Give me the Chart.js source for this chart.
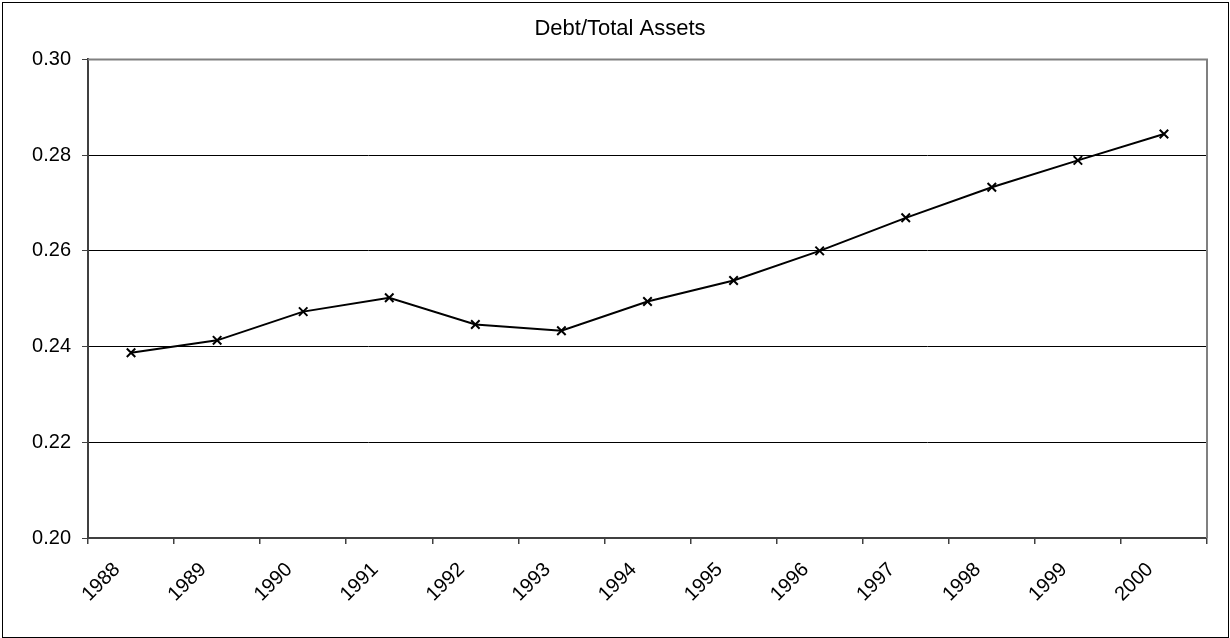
<!DOCTYPE html>
<html>
<head>
<meta charset="utf-8">
<script src="https://cdn.jsdelivr.net/npm/chart.js@4/dist/chart.umd.min.js"></script>
<style>
  html, body { margin: 0; padding: 0; background: #fff; }
  #wrap { width: 1230px; height: 638px; }
</style>
</head>
<body>
<div id="wrap"><canvas id="debtChart" width="1230" height="638"></canvas></div>
<script>
// data
var years = ['1988', '1989', '1990', '1991', '1992', '1993', '1994', '1995', '1996', '1997', '1998', '1999', '2000'];
var debtRatio = [0.2387, 0.2413, 0.2473, 0.2502, 0.2446, 0.2433, 0.2494, 0.2538, 0.2600, 0.2669, 0.2733, 0.2789, 0.2844];
var yTicks = [0.20, 0.22, 0.24, 0.26, 0.28, 0.30];

var fontFamily = "'Liberation Sans', Arial, sans-serif";

// outer frame + grey top/right edge of the plot area
var frames = {
    id: 'frames',
    afterLayout: function(chart) {
        // centre the title on the whole plot box, like the original
        if (chart.titleBlock) {
            chart.titleBlock.left = 33;
            chart.titleBlock.right = 1207;
        }
    },
    afterDatasetsDraw: function(chart) {
        var c = chart.ctx, a = chart.chartArea;
        c.save();
        c.strokeStyle = '#808080';
        c.lineWidth = 2;
        c.beginPath();
        c.moveTo(a.left, a.top);
        c.lineTo(a.right, a.top);
        c.lineTo(a.right, a.bottom);
        c.stroke();
        c.restore();
    },
    afterDraw: function(chart) {
        var c = chart.ctx;
        c.save();
        c.strokeStyle = '#000';
        c.lineWidth = 1;
        c.strokeRect(2.5, 2.5, chart.width - 4, chart.height - 3);
        c.restore();
    }
};

var ctx = document.getElementById('debtChart').getContext('2d');
var myChart = new Chart(ctx, {
    type: 'line',
    data: {
        labels: years,
        datasets: [{
            label: 'Debt/Total Assets',
            data: debtRatio,
            borderColor: '#000',
            backgroundColor: '#000',
            borderWidth: 2,
            tension: 0,
            pointStyle: 'crossRot',
            pointRadius: 6,
            pointBorderWidth: 2,
            pointBorderColor: '#000',
            fill: false
        }]
    },
    options: {
        responsive: false,
        animation: false,
        layout: {
            padding: { top: 16, right: 23, bottom: 0, left: 0 }
        },
        plugins: {
            legend: { display: false },
            tooltip: { enabled: false },
            title: {
                display: true,
                text: 'Debt/Total Assets',
                color: '#000',
                font: { family: fontFamily, size: 22, weight: 'normal' },
                padding: { top: 0, bottom: 17 }
            }
        },
        scales: {
            y: {
                min: 0.20,
                max: 0.30,
                afterBuildTicks: function(scale) {
                    scale.ticks = yTicks.map(function(v) { return { value: v }; });
                },
                afterFit: function(scale) { scale.width = 88; },
                ticks: {
                    color: '#000',
                    padding: 11,
                    font: { family: fontFamily, size: 20 },
                    callback: function(value) { return Number(value).toFixed(2); }
                },
                grid: {
                    color: '#000',
                    lineWidth: 1,
                    tickLength: 6,
                    tickColor: '#404040'
                },
                border: { display: true, color: '#404040', width: 2 }
            },
            x: {
                offset: true,
                afterFit: function(scale) { scale.height = 100; },
                ticks: {
                    color: '#000',
                    minRotation: 45,
                    maxRotation: 45,
                    autoSkip: false,
                    padding: 14,
                    labelOffset: -14,
                    font: { family: fontFamily, size: 20 }
                },
                grid: {
                    offset: true,
                    drawOnChartArea: false,
                    tickLength: 6,
                    color: '#404040',
                    lineWidth: 1.5
                },
                border: { display: true, color: '#404040', width: 2 }
            }
        }
    },
    plugins: [frames]
});
</script>
</body>
</html>
